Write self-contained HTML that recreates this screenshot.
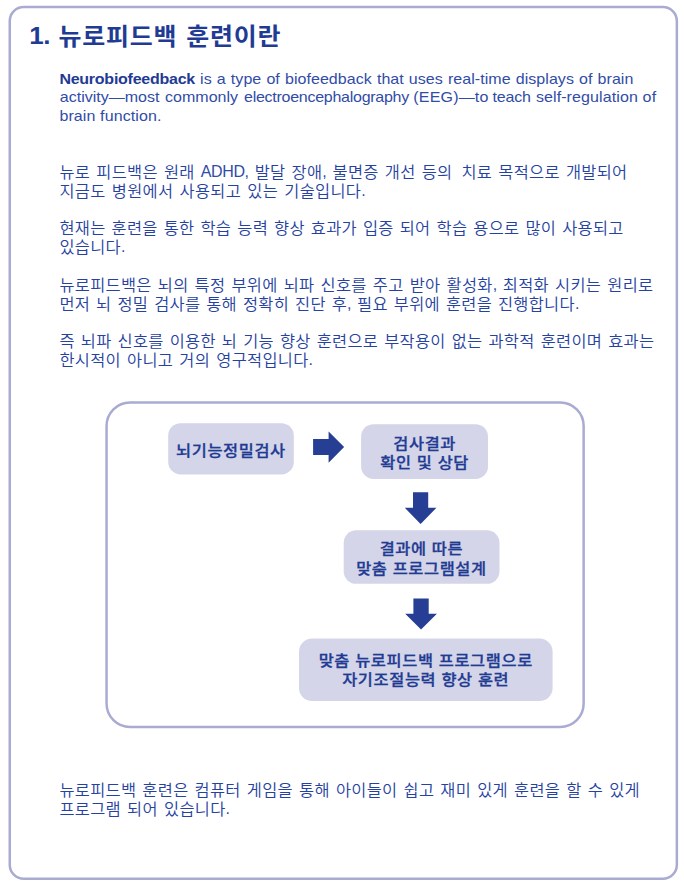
<!DOCTYPE html>
<html lang="ko">
<head>
<meta charset="utf-8">
<title>뉴로피드백 훈련이란</title>
<style>
html,body{margin:0;padding:0;background:#fff;}
body{width:684px;height:887px;position:relative;overflow:hidden;
  font-family:"Liberation Sans","Noto Sans CJK KR",sans-serif;color:#2642a0;}
h1{position:absolute;left:29.3px;top:20.9px;margin:0;font-size:25px;line-height:30px;height:30px;font-weight:bold;white-space:pre;color:#1f3b93;
  letter-spacing:0.7px;word-spacing:1.6px;transform:scaleY(0.94);transform-origin:0 24px;}
h1 span{letter-spacing:-0.4px;font-size:26px;position:relative;top:-0.6px;}
.l{position:absolute;left:59.4px;margin:0;line-height:20px;height:20px;white-space:pre;}
.e{font-size:16px;color:#314ca6;transform:scaleY(0.97);transform-origin:0 15.3px;}
.e b{color:#1f3b93;letter-spacing:-0.25px;}
.k{font-size:16.4px;font-weight:350;transform:scaleY(0.96);transform-origin:0 15.5px;}
.w{position:absolute;top:0;}
.s{word-spacing:-2px;}
.a{display:inline-block;line-height:20px;transform:scaleY(1.06);transform-origin:0 15.5px;position:relative;top:-0.6px;font-size:16px;letter-spacing:-0.4px;font-weight:400;color:#314ca6;}
.t{position:absolute;margin:0;font-weight:500;-webkit-text-stroke:0.3px currentColor;font-size:16.4px;line-height:20px;height:20px;text-align:center;white-space:pre;color:#1f3b93;
  letter-spacing:0.6px;transform:scaleY(0.93);transform-origin:50% 15.5px;}
svg{position:absolute;}
</style>
</head>
<body>
<svg width="684" height="887" viewBox="0 0 684 887" style="left:0;top:0">
<rect x="9.75" y="7.1" width="667.1" height="871.55" rx="14" ry="14" fill="none" stroke="#a9abd3" stroke-width="2.5"/>
<rect x="106.55" y="402.6" width="477.1" height="324.3" rx="23.5" ry="23.5" fill="none" stroke="#a9abd3" stroke-width="2.5"/>
<rect x="168.2" y="423.2" width="125.6" height="51.3" rx="12.5" ry="12.5" fill="#d4d5e8"/>
<rect x="361.1" y="424.2" width="126.9" height="54.7" rx="12.5" ry="12.5" fill="#d4d5e8"/>
<rect x="343.7" y="530.3" width="155.8" height="53.5" rx="12.5" ry="12.5" fill="#d4d5e8"/>
<rect x="299" y="638.6" width="253.6" height="62.4" rx="13" ry="13" fill="#d4d5e8"/>
<path d="M313.1 438.9h15.5v-7.5l15.5 15.6-15.5 15.7v-7.7h-15.5z" fill="#263e94"/>
<path d="M413 492.3h15.2v15.5h8.2l-15.8 16.1-15.8-16.1h8.2z" fill="#263e94"/>
<path d="M413.4 598.4h15.3v15.4h8.2l-15.85 15.8-15.85-15.8h8.2z" fill="#263e94"/>
</svg>
<h1 id="H"><span>1. </span>뉴로피드백 훈련이란</h1>
<p class="l e" id="E1" style="top:68.70px;letter-spacing:0.050px;word-spacing:0.600px"><b>Neurobiofeedback</b> is a type of biofeedback that uses real-time displays of brain</p>
<p class="l e" id="E2" style="top:87.30px"><span class="w" style="left:0.4px">activity—most</span> <span class="w" style="left:105.7px">commonly</span> <span class="w" style="left:184.7px;letter-spacing:-0.27px">electroencephalography</span> <span class="w" style="left:353.9px;letter-spacing:0.19px">(EEG)—to</span> <span class="w" style="left:433.0px;letter-spacing:-0.16px">teach</span> <span class="w" style="left:476.5px;letter-spacing:0.10px">self-regulation</span> <span class="w" style="left:583.2px;letter-spacing:0.39px">of</span></p>
<p class="l e" id="E3" style="top:105.90px;letter-spacing:0.115px">brain function.</p>
<p class="l k" id="K1" style="top:161.64px;letter-spacing:0.300px;word-spacing:1.268px">뉴로 피드백은 원래 <span class="a">ADHD,</span> 발달 장애<span class="a">,</span> 불면증 개선 등의 <span class="s"> </span>치료 목적으로 개발되어</p>
<p class="l k" id="K2" style="top:180.64px;letter-spacing:0.300px;word-spacing:1.403px">지금도 병원에서 사용되고 있는 기술입니다<span class="a">.</span></p>
<p class="l k" id="K3" style="top:217.64px;letter-spacing:0.300px;word-spacing:1.163px">현재는 훈련을 통한 학습 능력 향상 효과가 입증 되어 학습 용으로 많이 사용되고</p>
<p class="l k" id="K4" style="top:236.64px;letter-spacing:0.300px;word-spacing:1.000px">있습니다<span class="a">.</span></p>
<p class="l k" id="K5" style="top:274.64px;letter-spacing:0.300px;word-spacing:1.242px">뉴로피드백은 뇌의 특정 부위에 뇌파 신호를 주고 받아 활성화<span class="a">,</span> 최적화 시키는 원리로</p>
<p class="l k" id="K6" style="top:293.64px;letter-spacing:0.300px;word-spacing:1.095px">먼저 뇌 정밀 검사를 통해 정확히 진단 후<span class="a">,</span> 필요 부위에 훈련을 진행합니다<span class="a">.</span></p>
<p class="l k" id="K7" style="top:330.64px;letter-spacing:0.300px;word-spacing:1.146px">즉 뇌파 신호를 이용한 뇌 기능 향상 훈련으로 부작용이 없는 과학적 훈련이며 효과는</p>
<p class="l k" id="K8" style="top:349.64px;letter-spacing:0.300px;word-spacing:1.303px">한시적이 아니고 거의 영구적입니다<span class="a">.</span></p>
<p class="l k" id="K9" style="top:779.64px;letter-spacing:0.300px;word-spacing:1.233px">뉴로피드백 훈련은 컴퓨터 게임을 통해 아이들이 쉽고 재미 있게 훈련을 할 수 있게</p>
<p class="l k" id="K10" style="top:798.64px;letter-spacing:0.300px;word-spacing:1.350px">프로그램 되어 있습니다<span class="a">.</span></p>
<p class="t" id="T1" style="left:168.1px;width:125.7px;top:439.5px">뇌기능정밀검사</p>
<p class="t" id="T2" style="left:361.4px;width:126.6px;top:432.7px">검사결과</p>
<p class="t" id="T3" style="left:361.4px;width:126.6px;top:451.7px">확인 및 상담</p>
<p class="t" id="T4" style="left:343.4px;width:156.1px;top:538.0px">결과에 따른</p>
<p class="t" id="T5" style="left:343.4px;width:156.1px;top:557.7px">맞춤 프로그램설계</p>
<p class="t" id="T6" style="left:299px;width:253.5px;top:650.1px">맞춤 뉴로피드백 프로그램으로</p>
<p class="t" id="T7" style="left:299px;width:253.5px;top:669.3px">자기조절능력 향상 훈련</p>
</body>
</html>
